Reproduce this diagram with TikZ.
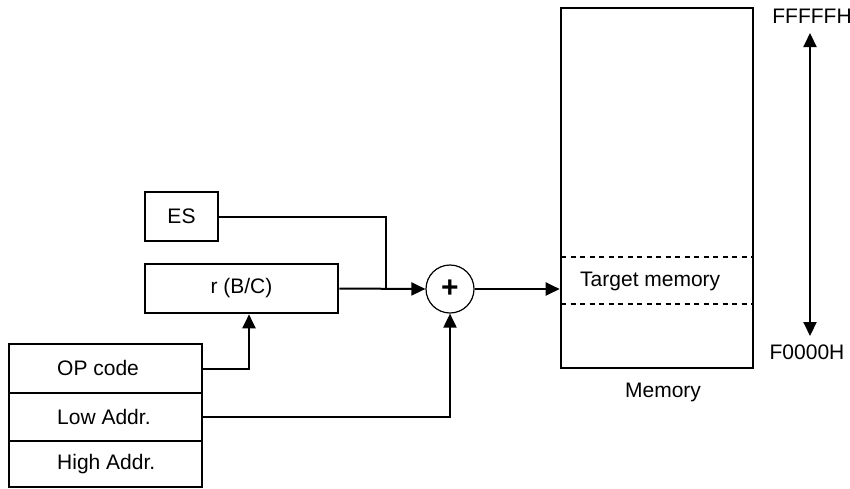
\documentclass[tikz,border=0pt]{standalone}
\usepackage{fontspec}
\setmainfont{Liberation Sans}
\usetikzlibrary{arrows.meta}
\begin{document}
\begin{tikzpicture}[x=1pt,y=-1pt,
  font=\fontsize{21}{25}\selectfont,
  box/.style={draw, line width=2.6pt, inner sep=0pt},
  conn/.style={line width=2pt},
  arr/.style={-{Triangle[length=14pt,width=13pt]}},
  darr/.style={{Triangle[length=14pt,width=13pt]}-{Triangle[length=14pt,width=13pt]}},
  lbl/.style={inner sep=0pt}]
\useasboundingbox (0,0) rectangle (850,488);
% boxes
\node[box, minimum width=73pt, minimum height=49pt] (es) at (181.5,216.5) {ES};
\node[box, minimum width=193pt, minimum height=49pt] (r) at (241.5,288.5) {r (B/C)};
\node[draw, line width=1.2pt, circle, minimum size=48pt, inner sep=0pt] (plus) at (450,289) {\fontsize{30}{30}\selectfont\textbf{+}};
% instruction table
\node[box, minimum width=193pt, minimum height=49pt] (op) at (105.5,368.5) {};
\node[box, minimum width=193pt, minimum height=48pt] (low) at (105.5,417) {};
\node[box, minimum width=193pt, minimum height=46pt] (high) at (105.5,464) {};
\node[lbl, anchor=west] (optext) at (57,368) {OP code};
\node[lbl, anchor=west] (lowtext) at (57,417) {Low Addr.};
\node[lbl, anchor=west] (hightext) at (57,464) {High Addr.};
% memory
\node[draw, line width=2.6pt, minimum width=192pt, minimum height=360pt, inner sep=0pt] (mem) at (657,188) {};
\coordinate (d1) at (561,257);
\coordinate (d2) at (561,304);
\draw[line width=1.6pt, dash pattern=on 5pt off 4.5pt] (d1) -- (d1 -| mem.east);
\draw[line width=1.6pt, dash pattern=on 5pt off 4.5pt] (d2) -- (d2 -| mem.east);
\node[lbl, anchor=west] (target) at (580,281) {Target memory};
\node[lbl] (memlabel) at (663,392) {Memory};
\node[lbl] (ftop) at (812,16) {FFFFFH};
\node[lbl] (fbot) at (807,352) {F0000H};
\coordinate (atop) at (810,33);
\coordinate (abot) at (810,336);
\draw[line width=2pt, darr] (atop) -- (abot);
% connectors
\coordinate (j) at (386,289);
\draw[conn] (es.east) -| (j);
\draw[conn, arr] (r.east) -- (plus.west);
\coordinate (rin) at ([xshift=7.5pt]r.south);
\draw[conn, arr] (op.east) -| (rin);
\draw[conn, arr] (low.east) -| (plus.south);
\draw[conn, arr] (plus.east) -- (plus.east -| mem.west);
\end{tikzpicture}
\end{document}
